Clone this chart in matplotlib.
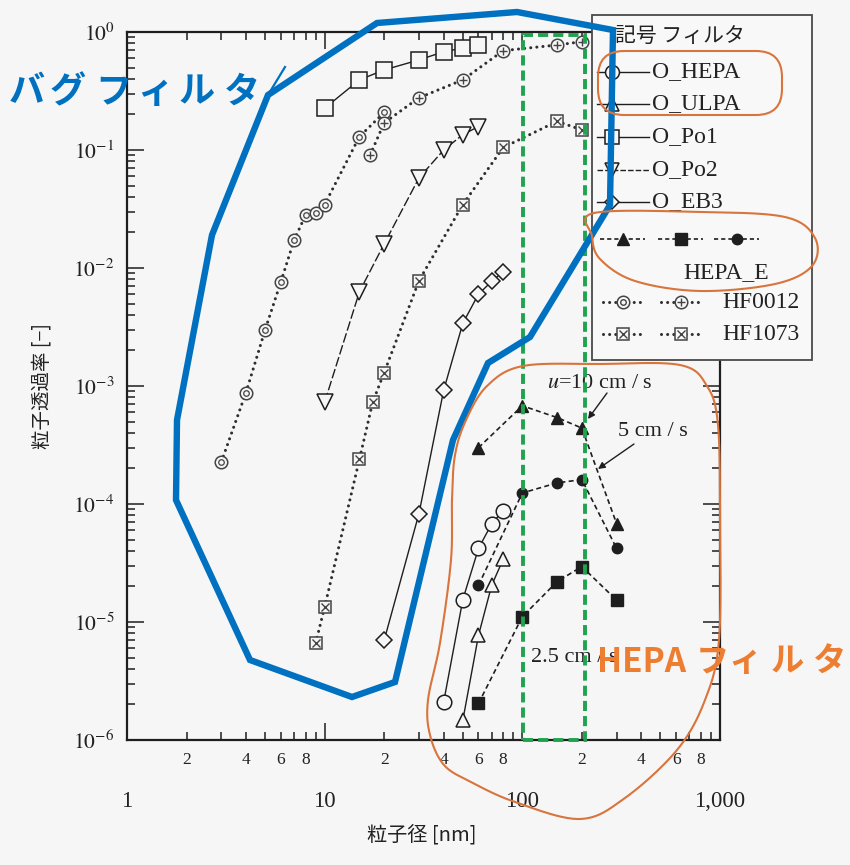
import numpy as np
import matplotlib
matplotlib.use("Agg")
import matplotlib.pyplot as plt
from matplotlib.transforms import Affine2D
from matplotlib.patches import Rectangle, FancyBboxPatch, Polygon
from matplotlib.lines import Line2D
from matplotlib.ticker import FixedLocator, FixedFormatter, NullFormatter

plt.rcParams['font.family'] = ['Liberation Serif', 'DejaVu Serif']
plt.rcParams['mathtext.fontset'] = 'stix'
JP = ['Noto Sans CJK JP', 'DejaVu Sans']

# ---------------- data: particle diameter [nm] vs. penetration [-] ----------------
hepa_d = [40, 50, 60, 70, 80]
hepa_p = [2.1e-6, 1.55e-5, 4.2e-5, 6.8e-5, 8.8e-5]
ulpa_d = [50, 60, 70, 80]
ulpa_p = [1.47e-6, 7.7e-6, 2.05e-5, 3.4e-5]
po1_d = [10, 15, 20, 30, 40, 50, 60]
po1_p = [0.226, 0.393, 0.477, 0.58, 0.68, 0.73, 0.776]
po2_d = [10, 15, 20, 30, 40, 50, 60]
po2_p = [7.3e-4, 6.3e-3, 1.6e-2, 5.8e-2, 0.10, 0.135, 0.158]
eb3_d = [20, 30, 40, 50, 60, 70, 80]
eb3_p = [7.0e-6, 8.3e-5, 9.2e-4, 3.4e-3, 6.0e-3, 7.7e-3, 9.3e-3]

hepae_d = [60, 100, 150, 200, 300]
hepae_u10 = [3.0e-4, 6.8e-4, 5.4e-4, 4.4e-4, 6.8e-5]
hepae_u5 = [2.05e-5, 1.24e-4, 1.51e-4, 1.61e-4, 4.2e-5]
hepae_u25 = [2.04e-6, 1.11e-5, 2.2e-5, 2.95e-5, 1.53e-5]

hf0012a_d = [3, 4, 5, 6, 7, 8, 9, 10, 15, 20]
hf0012a_p = [2.27e-4, 8.8e-4, 3.0e-3, 7.6e-3, 1.72e-2, 2.8e-2, 2.95e-2, 3.45e-2, 0.130, 0.208]
hf0012b_d = [17, 20, 30, 50, 80, 150, 200]
hf0012b_p = [0.091, 0.170, 0.277, 0.393, 0.695, 0.776, 0.828]
hf1073_d = [9, 10, 15, 17.5, 20, 30, 50, 80, 150, 200]
hf1073_p = [6.6e-6, 1.34e-5, 2.4e-4, 7.3e-4, 1.3e-3, 7.8e-3, 3.45e-2, 0.105, 0.175, 0.148]

x_major = [1, 10, 100, 1000]
x_major_labels = ['1', '10', '100', '1,000']
x_minor_marks = [2, 3, 4, 5, 6, 7, 8, 9]
x_minor_shown = [2, 4, 6, 8]
y_major = [1e-6, 1e-5, 1e-4, 1e-3, 1e-2, 1e-1, 1]
y_major_labels = [r'$10^{-6}$', r'$10^{-5}$', r'$10^{-4}$', r'$10^{-3}$',
                  r'$10^{-2}$', r'$10^{-1}$', r'$10^{0}$']

legend_open = ['O_HEPA', 'O_ULPA', 'O_Po1', 'O_Po2', 'O_EB3']

# ---------------- figure ----------------
W, H, DPI = 850, 865, 100
BG = '#f6f6f6'
INK = '#1e1e1e'
BLUE = '#0070C0'
ORANGE = '#ED7D31'
ORLINE = '#d8743c'
GREEN = '#1fa34f'

fig = plt.figure(figsize=(W / DPI, H / DPI), dpi=DPI, facecolor=BG)
ax = fig.add_axes([127 / W, 1 - 740 / H, 593 / W, 708 / H], facecolor=BG)
# pixel coordinates (origin top-left) for hand-drawn annotations
pix = Affine2D().scale(1 / DPI, -1 / DPI).translate(0, H / DPI) + fig.dpi_scale_trans

ax.set_xscale('log')
ax.set_yscale('log')
ax.set_xlim(1, 1000)
ax.set_ylim(1e-6, 1)

open_kw = dict(color=INK, mfc=BG, mec=INK, mew=1.1, lw=1.0)
ax.plot(hepa_d, hepa_p, marker='o', ms=10.5, zorder=3, **open_kw)
ax.plot(ulpa_d, ulpa_p, marker='^', ms=10, zorder=3, **open_kw)
ax.plot(po1_d, po1_p, marker='s', ms=11, zorder=3, **open_kw)
ax.plot(po2_d, po2_p, marker='v', ms=11, ls=(0, (7, 2)), zorder=3, **open_kw)
ax.plot(eb3_d, eb3_p, marker='D', ms=8.5, zorder=3, **open_kw)

dash_kw = dict(color=INK, lw=1.2, ls=(0, (3, 2)), zorder=3)
ax.plot(hepae_d, hepae_u10, marker='^', ms=9, mfc=INK, mec=INK, **dash_kw)
ax.plot(hepae_d, hepae_u5, marker='o', ms=7.5, mfc=INK, mec=INK, **dash_kw)
ax.plot(hepae_d, hepae_u25, marker='s', ms=8.5, mfc=INK, mec=INK, **dash_kw)

DOT = dict(color='#2e2e2e', lw=2.2, ls=(0, (0.01, 2.0)), dash_capstyle='round', zorder=3)
GRAYM = '#444444'
ax.plot(hf0012a_d, hf0012a_p, **DOT)
ax.plot(hf0012a_d, hf0012a_p, ls='none', marker='o', ms=9, mfc=BG, mec=GRAYM, mew=1.1, zorder=3.2)
ax.plot(hf0012a_d, hf0012a_p, ls='none', marker='o', ms=4, mfc='none', mec=GRAYM, mew=0.9, zorder=3.3)
ax.plot(hf0012b_d, hf0012b_p, **DOT)
ax.plot(hf0012b_d, hf0012b_p, ls='none', marker='o', ms=9, mfc=BG, mec=GRAYM, mew=1.1, zorder=3.2)
ax.plot(hf0012b_d, hf0012b_p, ls='none', marker='+', ms=6, mec=GRAYM, mew=1.0, zorder=3.3)
ax.plot(hf1073_d, hf1073_p, **DOT)
ax.plot(hf1073_d, hf1073_p, ls='none', marker='s', ms=9, mfc=BG, mec=GRAYM, mew=1.1, zorder=3.2)
ax.plot(hf1073_d, hf1073_p, ls='none', marker='x', ms=6, mec=GRAYM, mew=1.0, zorder=3.3)

# ---------------- axes styling ----------------
for s in ax.spines.values():
    s.set_linewidth(1.6)
    s.set_color(INK)
ax.xaxis.set_major_locator(FixedLocator(x_major))
ax.xaxis.set_major_formatter(FixedFormatter(x_major_labels))
minor_pos = [m * 10 ** k for k in range(3) for m in x_minor_marks]
minor_lab = [str(m) if m in x_minor_shown else '' for k in range(3) for m in x_minor_marks]
ax.xaxis.set_minor_locator(FixedLocator(minor_pos))
ax.xaxis.set_minor_formatter(FixedFormatter(minor_lab))
ax.yaxis.set_major_locator(FixedLocator(y_major))
ax.yaxis.set_major_formatter(FixedFormatter(y_major_labels))
ax.yaxis.set_minor_locator(FixedLocator([m * 10.0 ** k for k in range(-6, 0) for m in x_minor_marks]))
ax.yaxis.set_minor_formatter(NullFormatter())

ax.tick_params(which='both', direction='in', top=True, right=True, color=INK,
               labelcolor='#222222', width=1.1)
ax.tick_params(which='major', length=12)
ax.tick_params(which='minor', length=6)
ax.tick_params(axis='x', which='major', pad=37, labelsize=16.5)
ax.tick_params(axis='x', which='minor', pad=9, labelsize=12.5)
ax.tick_params(axis='y', which='major', pad=9, labelsize=15.5)

ax.set_xlabel('粒子径 [nm]', family=JP, fontsize=14.5, color='#222222')
ax.xaxis.set_label_coords(0.497, -0.119)
ax.set_ylabel('粒子透過率 [−]', family=JP, fontsize=14, color='#222222')
ax.yaxis.set_label_coords(-0.126, 0.5)

# green dashed frame around the 100-200 nm band
ax.add_patch(Rectangle((101, 1e-6), 106, 0.94 - 1e-6, fill=False, ec=GREEN, lw=2.8,
                       ls=(0, (2.6, 1.3)), zorder=4, clip_on=False))

# velocity annotations for HEPA_E
ax.text(547, 383, r'$u$=10 cm / s', transform=pix, fontsize=16, va='center', ha='left',
        color='#222222', zorder=3.5)
ax.text(618, 432, '5 cm / s', transform=pix, fontsize=16, va='center', ha='left',
        color='#222222', zorder=3.5)
ax.text(531, 657, '2.5 cm / s', transform=pix, fontsize=16, va='center', ha='left',
        color='#222222', zorder=3.5)
arr = dict(arrowstyle='-|>', lw=1.0, color=INK, mutation_scale=10, shrinkA=0, shrinkB=0)
ax.annotate('', xy=(588, 419), xytext=(607, 393), xycoords=pix, textcoords=pix,
            arrowprops=arr, zorder=3.5)
ax.annotate('', xy=(598, 469), xytext=(634, 444), xycoords=pix, textcoords=pix,
            arrowprops=arr, zorder=3.5)

# ---------------- key box ----------------
def fline(xs, ys, z=6, **kw):
    fig.add_artist(Line2D(xs, ys, transform=pix, zorder=z, **kw))

fig.add_artist(Rectangle((592, 15), 220, 345, transform=pix, fc='#f8f8f8', ec='#4a4a4a',
                         lw=1.3, zorder=5))
fig.text(615, 36, '記号 フィルタ', transform=pix, family=JP, fontsize=15, va='center',
         ha='left', color='#222222', zorder=6)
key_markers = ['o', '^', 's', 'v', 'D']
key_ms = [10, 9.5, 10, 10, 7.5]
key_y = [72, 104, 137, 170, 202]
for lab, mk, ms, yy in zip(legend_open, key_markers, key_ms, key_y):
    ls = (0, (4, 1.5)) if mk == 'v' else '-'
    fline([597, 649], [yy, yy], color=INK, lw=1.0, ls=ls)
    fline([612], [yy], marker=mk, ms=ms, mfc='#f8f8f8', mec=INK, mew=1.1, ls='none', z=6.5)
    fig.text(652, yy, lab, transform=pix, fontsize=17, va='center', ha='left',
             color='#222222', zorder=6)

for cx, mk, ms in zip([623, 681, 737], ['^', 's', 'o'], [9, 8.5, 7.5]):
    fline([cx - 23, cx + 22], [239, 239], color=INK, lw=1.2, ls=(0, (2.5, 1.8)))
    fline([cx], [239], marker=mk, ms=ms, mfc=INK, mec=INK, ls='none', z=6.5)
fig.text(683, 273, 'HEPA_E', transform=pix, fontsize=17, va='center', ha='left',
         color='#222222', zorder=6)

for yy, lab, inner in [(302, 'HF0012', ('o', '+')), (334, 'HF1073', ('x', 'x'))]:
    for cx, im in zip([623, 681], inner):
        fline([cx - 20, cx + 20], [yy, yy], color='#2e2e2e', lw=2.2, ls=(0, (0.01, 2.0)),
              dash_capstyle='round')
        outer = 's' if im == 'x' else 'o'
        fline([cx], [yy], marker=outer, ms=9, mfc='#f8f8f8', mec=GRAYM, mew=1.1, ls='none', z=6.5)
        fline([cx], [yy], marker=im, ms=4 if im == 'o' else 6, mfc='none', mec=GRAYM,
              mew=1.0, ls='none', z=6.6)
    fig.text(722, yy, lab, transform=pix, fontsize=17, va='center', ha='left',
             color='#222222', zorder=6)

# ---------------- hand-drawn highlights ----------------
def smooth_closed(pts, n=24):
    P = np.asarray(pts, float)
    N = len(P)
    out = []
    t = np.linspace(0, 1, n, endpoint=False)[:, None]
    for i in range(N):
        p0, p1, p2, p3 = P[i - 1], P[i], P[(i + 1) % N], P[(i + 2) % N]
        out.append(0.5 * (2 * p1 + (-p0 + p2) * t + (2 * p0 - 5 * p1 + 4 * p2 - p3) * t ** 2
                          + (-p0 + 3 * p1 - 3 * p2 + p3) * t ** 3))
    out = np.vstack(out)
    return np.vstack([out, out[:1]])

bag_outline = [(268, 95), (377, 23), (517, 12), (613, 30), (610, 205), (530, 337),
               (488, 363), (453, 440), (395, 682), (352, 697), (250, 660), (176, 500),
               (177, 420), (212, 235)]
fig.add_artist(Polygon(bag_outline, closed=True, fill=False, ec=BLUE, lw=4.6,
                       joinstyle='miter', transform=pix, zorder=8))
fline([268, 285], [95, 67], color=BLUE, lw=1.6, z=8)

hepa_outline = [(452, 500), (455, 455), (466, 420), (487, 386), (523, 366), (600, 364),
                (680, 365), (707, 386), (718, 425), (720, 520), (719, 640), (705, 700),
                (677, 750), (625, 798), (580, 819), (515, 802), (471, 782), (444, 765),
                (430, 735), (428, 700), (440, 643), (451, 560)]
c = smooth_closed(hepa_outline)
fline(c[:, 0], c[:, 1], color=ORLINE, lw=1.5, z=8)

hepae_key = [(594, 213), (700, 212), (785, 217), (815, 238), (812, 266), (775, 284),
             (700, 291), (635, 281), (600, 259), (592, 236)]
c = smooth_closed(hepae_key)
fline(c[:, 0], c[:, 1], color=ORLINE, lw=1.5, z=8)

fig.add_artist(FancyBboxPatch((598, 51), 184, 64, boxstyle='round,pad=0,rounding_size=26',
                              fill=False, ec=ORLINE, lw=1.5, transform=pix, zorder=8))

# labels of the highlighted groups
for ch, cx in zip('バグフィルタ', [27, 68, 113, 155, 197, 242]):
    fig.text(cx, 92, ch, transform=pix, family=JP, fontsize=26, fontweight='bold',
             color=BLUE, ha='center', va='center', zorder=9)
fig.text(597, 662, 'HEPA', transform=pix, family=JP, fontsize=24, fontweight='bold',
         color=ORANGE, ha='left', va='center', zorder=9)
for ch, cx in zip('フィルタ', [712, 745, 787, 830]):
    fig.text(cx, 662, ch, transform=pix, family=JP, fontsize=24, fontweight='bold',
             color=ORANGE, ha='center', va='center', zorder=9)

fig.savefig('out.png', dpi=DPI, facecolor=BG)
